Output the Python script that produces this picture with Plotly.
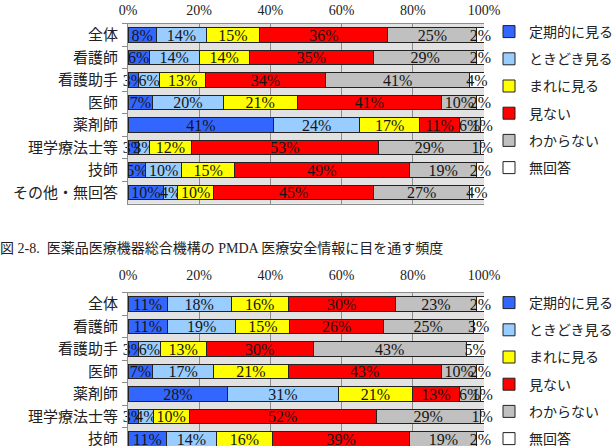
import plotly.graph_objects as go

W, H = 615, 446

series = ["定期的に見る", "ときどき見る", "まれに見る", "見ない", "わからない", "無回答"]
colors = ["#3366FF", "#99CCFF", "#FFFF00", "#FF0000", "#C0C0C0", "#FFFFFF"]

categories_top = ["全体", "看護師", "看護助手", "医師", "薬剤師", "理学療法士等", "技師", "その他・無回答"]
regular_top = [8, 6, 3, 7, 41, 3, 5, 10]
sometimes_top = [14, 14, 6, 20, 24, 3, 10, 4]
rarely_top = [15, 14, 13, 21, 17, 12, 15, 10]
never_top = [36, 35, 34, 41, 11, 53, 49, 45]
unknown_top = [25, 29, 41, 10, 6, 29, 19, 27]
noanswer_top = [2, 2, 4, 2, 1, 1, 2, 4]

categories_bottom = ["全体", "看護師", "看護助手", "医師", "薬剤師", "理学療法士等", "技師"]
regular_bottom = [11, 11, 3, 7, 28, 3, 11]
sometimes_bottom = [18, 19, 6, 17, 31, 4, 14]
rarely_bottom = [16, 15, 13, 21, 21, 10, 16]
never_bottom = [30, 26, 30, 43, 13, 52, 39]
unknown_bottom = [23, 25, 43, 10, 6, 29, 19]
noanswer_bottom = [2, 3, 5, 2, 1, 1, 2]

x_ticks = [0, 20, 40, 60, 80, 100]
caption = "図 2-8.  医薬品医療機器総合機構の PMDA 医療安全情報に目を通す頻度"

FONT = "Liberation Serif, 'Noto Sans CJK JP', serif"

top_series = [regular_top, sometimes_top, rarely_top, never_top, unknown_top, noanswer_top]
bottom_series = [regular_bottom, sometimes_bottom, rarely_bottom, never_bottom, unknown_bottom, noanswer_bottom]

fig = go.Figure()

def add_chart(cats, data, xa, ya, legend):
    for name, vals, col in zip(series, data, colors):
        fig.add_trace(go.Bar(
            y=cats, x=vals, name=name, orientation="h",
            xaxis=xa, yaxis=ya, legend=legend, legendgroup=legend + name,
            marker=dict(color=col, line=dict(color="#222222", width=1)),
            text=vals, texttemplate="%{text}%",
            textposition="inside", insidetextanchor="middle",
            constraintext="none", textangle=0, cliponaxis=False,
            textfont=dict(family=FONT, size=16, color="#151515"),
            hoverinfo="skip",
        ))

add_chart(categories_top, top_series, "x", "y", "legend")
add_chart(categories_bottom, bottom_series, "x2", "y2", "legend2")

xdom = [128 / W, 484 / W]
top_dom = [1 - 203.75 / H, 1 - 23.75 / H]
bot_dom = [0, 1 - 292.75 / H]
bot_range_end = -0.5 + (H - 292.75) / 22.5

xaxis_common = dict(
    range=[0, 100], domain=xdom, side="top", tickvals=x_ticks,
    ticktext=[f"{v}%" for v in x_ticks], showgrid=True, gridcolor="#8c8c8c",
    gridwidth=1, showline=True, linecolor="#8c8c8c", mirror=True,
    zeroline=False, ticks="", tickfont=dict(family=FONT, size=14, color="#222"),
    fixedrange=True,
)
yaxis_common = dict(
    type="category", showgrid=False, showline=True, linecolor="#8c8c8c",
    ticks="outside", tickson="boundaries", ticklen=5, tickcolor="#8c8c8c",
    tickfont=dict(family=FONT, size=15, color="#222"), ticklabelstandoff=6,
    fixedrange=True, automargin=False,
)

legend_common = dict(
    x=489 / W, xanchor="left", yanchor="top", traceorder="grouped",
    tracegroupgap=6, font=dict(family=FONT, size=14, color="#222"),
    bgcolor="rgba(0,0,0,0)", itemclick=False, itemdoubleclick=False,
)

fig.update_layout(
    width=W, height=H, margin=dict(l=0, r=0, t=0, b=0, autoexpand=False),
    paper_bgcolor="white", plot_bgcolor="#E2E2E2",
    barmode="stack", barnorm="percent", bargap=0.34,
    xaxis=dict(anchor="y", ticklabelstandoff=2, **xaxis_common),
    yaxis=dict(anchor="x", domain=top_dom, range=[7.5, -0.5],
               categoryorder="array", categoryarray=categories_top, **yaxis_common),
    xaxis2=dict(anchor="y2", ticklabelstandoff=6, **xaxis_common),
    yaxis2=dict(anchor="x2", domain=bot_dom, range=[bot_range_end, -0.5],
                categoryorder="array", categoryarray=categories_bottom, **yaxis_common),
    legend=dict(y=1 - 16 / H, **legend_common),
    legend2=dict(y=1 - 287 / H, **legend_common),
    showlegend=True,
    annotations=[dict(
        text=caption, xref="paper", yref="paper", x=0, y=1 - 248 / H,
        xanchor="left", yanchor="middle", showarrow=False, xshift=-2,
        font=dict(family=FONT, size=14, color="#222"),
    )],
)

fig.write_html("out.html")
